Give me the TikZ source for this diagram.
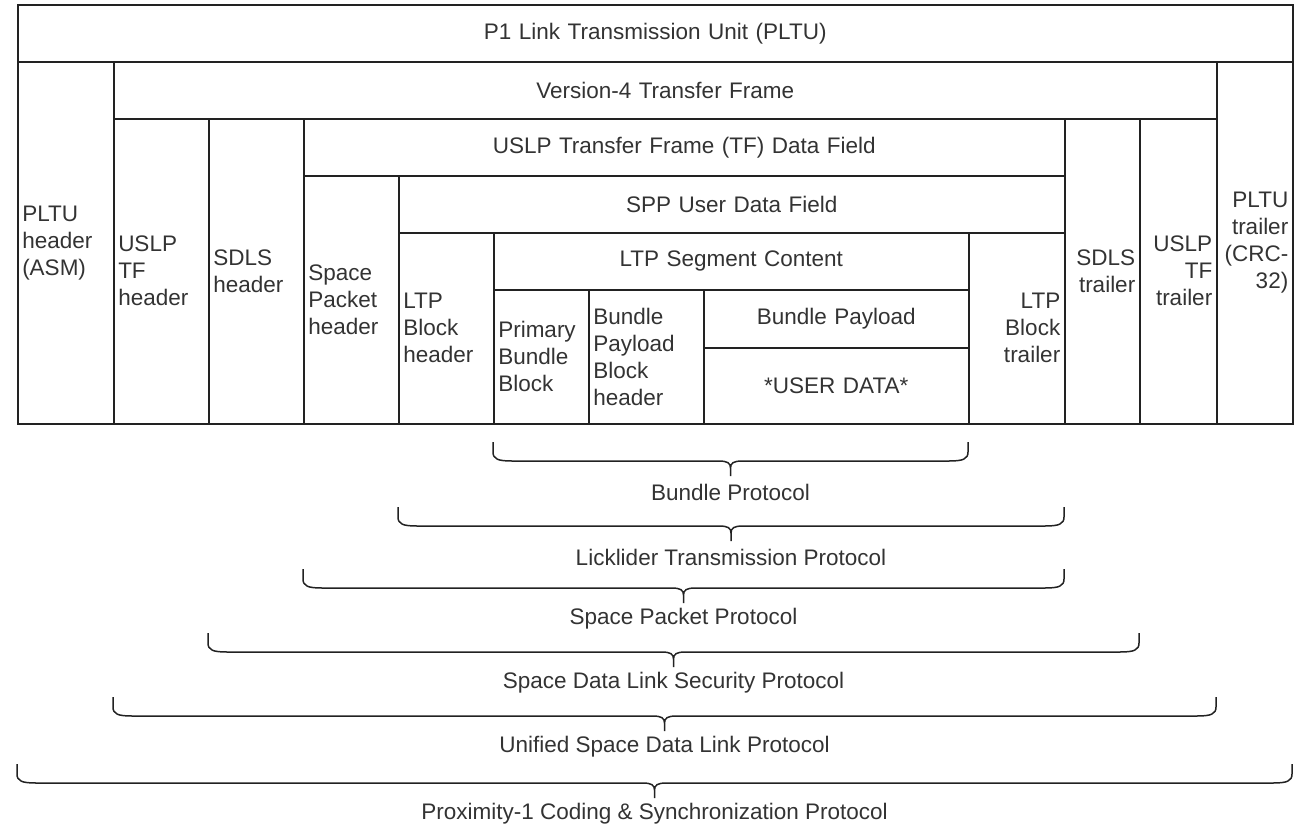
\documentclass[tikz,border=0pt]{standalone}
\usepackage{fontspec}
\setmainfont{Liberation Sans}
\usetikzlibrary{calc}
\definecolor{linec}{HTML}{222222}
\definecolor{textc}{HTML}{333333}
\tikzset{
  cell/.style={draw=linec, line width=1.5pt, anchor=north west, inner ysep=0pt,
    text=textc, font=\fontsize{22.5}{27}\selectfont},
  cellc/.style={cell, align=center},
  celll/.style={cell, align=left, inner xsep=4.5pt},
  cellr/.style={cell, align=right, inner xsep=4.5pt},
  bracestyle/.style={draw=linec, line width=1.5pt},
  protlabel/.style={text=textc, font=\fontsize{22.5}{27}\selectfont, inner sep=0pt}
}
% #1 name #2 style #3 x1 #4 y1 #5 x2 #6 y2 #7 text
\newcommand{\mycell}[7]{%
  \pgfmathsetmacro\cw{#5-#3}%
  \pgfmathsetmacro\ch{#6-#4}%
  \pgfmathsetmacro\tw{#5-#3-9}%
  \node[#2, minimum width=\cw pt, minimum height=\ch pt, text width=\tw pt] (#1) at (#3,#4) {#7};%
}
% #1 name #2 xl #3 xr #4 yh #5 label
\newcommand{\pbrace}[5]{%
  \pgfmathsetmacro\xc{(#2+#3)/2}%
  \draw[bracestyle] (#2,#4-19) -- (#2,#4-9) .. controls (#2,#4-2) and (#2+5,#4) .. (#2+19,#4)
    -- (\xc-12,#4) .. controls (\xc-3,#4) and (\xc,#4+2) .. (\xc,#4+7) -- (\xc,#4+15)
    (\xc,#4+7) .. controls (\xc,#4+2) and (\xc+3,#4) .. (\xc+12,#4)
    -- (#3-19,#4) .. controls (#3-5,#4) and (#3,#4-2) .. (#3,#4-9) -- (#3,#4-19);%
  \node[protlabel] (#1) at (\xc,#4+31) {#5};%
}
\begin{document}
\begin{tikzpicture}[x=1pt,y=-1pt]
\useasboundingbox (0,0) rectangle (1307,825);
% rows: 4 61 118 175 232 289 347 423
% cols: 17 113 208 303 398 493 588 703 968 1064 1139 1216 1292
\mycell{pltu}{cellc}{17}{4}{1292}{61}{P1 Link Transmission Unit (PLTU)}
\mycell{pltuh}{celll}{17}{61}{113}{423}{PLTU\\header\\(ASM)}
\mycell{vfour}{cellc}{113}{61}{1216}{118}{Version-4 Transfer Frame}
\mycell{pltut}{cellr}{1216}{61}{1292}{423}{PLTU\\trailer\\(CRC-\\32)}
\mycell{uslph}{celll}{113}{118}{208}{423}{USLP\\TF\\header}
\mycell{sdlsh}{celll}{208}{118}{303}{423}{SDLS\\header}
\mycell{uslpdf}{cellc}{303}{118}{1064}{175}{USLP Transfer Frame (TF) Data Field}
\mycell{sdlst}{cellr}{1064}{118}{1139}{423}{SDLS\\trailer}
\mycell{uslpt}{cellr}{1139}{118}{1216}{423}{USLP\\TF\\trailer}
\mycell{sph}{celll}{303}{175}{398}{423}{Space\\Packet\\header}
\mycell{sppudf}{cellc}{398}{175}{1064}{232}{SPP User Data Field}
\mycell{ltph}{celll}{398}{232}{493}{423}{LTP\\Block\\header}
\mycell{ltpsc}{cellc}{493}{232}{968}{289}{LTP Segment Content}
\mycell{ltpt}{cellr}{968}{232}{1064}{423}{LTP\\Block\\trailer}
\mycell{pbb}{celll}{493}{289}{588}{423}{Primary\\Bundle\\Block}
\mycell{bpbh}{celll}{588}{289}{703}{423}{Bundle\\Payload\\Block\\header}
\mycell{bpay}{cellc}{703}{289}{968}{347}{Bundle Payload}
\mycell{udata}{cellc}{703}{347}{968}{423}{*USER DATA*}
% protocol braces
\pbrace{bundlep}{493}{968}{461}{Bundle Protocol}
\pbrace{ltpp}{398}{1064}{526}{Licklider Transmission Protocol}
\pbrace{sppp}{303}{1064}{588}{Space Packet Protocol}
\pbrace{sdlsp}{208}{1139}{652}{Space Data Link Security Protocol}
\pbrace{uslpp}{113}{1216}{716}{Unified Space Data Link Protocol}
\pbrace{proxp}{17}{1292}{783}{Proximity-1 Coding \& Synchronization Protocol}
\end{tikzpicture}
\end{document}
